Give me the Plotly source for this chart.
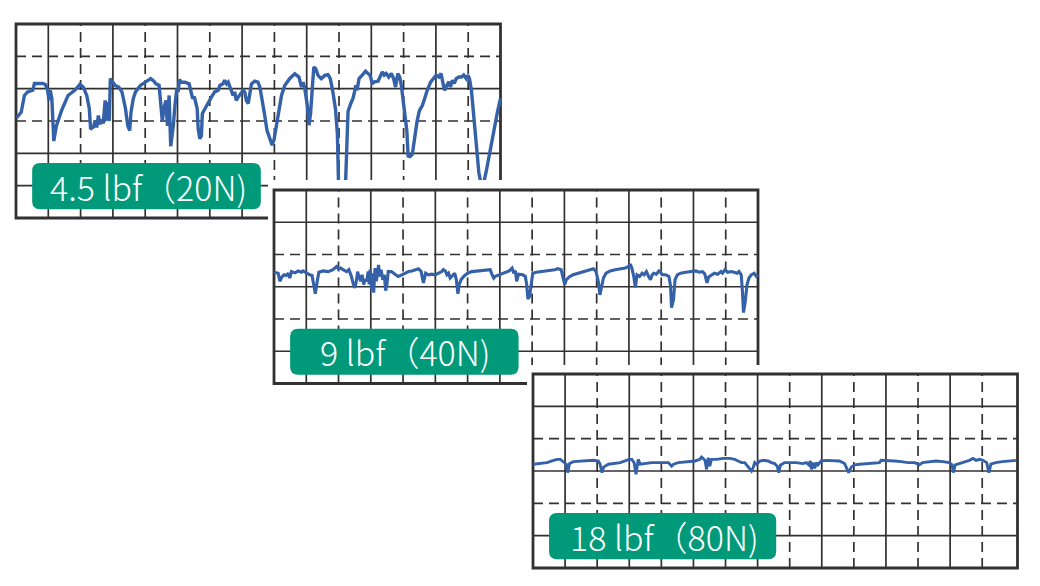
import plotly.graph_objects as go

# Friction-force traces, in grid divisions (15 across, 6 high, 0 at the bottom)
pos_20n = [0.02, 0.16, 0.26, 0.36, 0.52, 0.57, 0.83, 0.91, 0.98, 1.02, 1.06, 1.11, 1.17, 1.25, 1.41, 1.51,
           1.61, 1.82, 1.98, 2.08, 2.19, 2.27, 2.31, 2.40, 2.45, 2.50, 2.55, 2.60, 2.66, 2.70, 2.76, 2.79,
           2.84, 2.89, 2.92, 3.00, 3.07, 3.18, 3.28, 3.39, 3.46, 3.52, 3.56, 3.63, 3.70, 3.85, 4.01, 4.17,
           4.27, 4.32, 4.43, 4.48, 4.53, 4.58, 4.64, 4.69, 4.74, 4.79, 4.87, 4.92, 4.98, 5.02, 5.06, 5.12,
           5.23, 5.36, 5.43, 5.47, 5.52, 5.61, 5.64, 5.69, 5.74, 5.77, 5.85, 5.95, 6.05, 6.15, 6.26, 6.31,
           6.41, 6.46, 6.52, 6.57, 6.62, 6.67, 6.72, 6.77, 6.82, 6.88, 6.98, 7.03, 7.08, 7.13, 7.19, 7.24,
           7.29, 7.39, 7.49, 7.55, 7.63, 7.70, 7.77, 7.86, 7.93, 7.99, 8.06, 8.13, 8.22, 8.32, 8.47, 8.63,
           8.68, 8.76, 8.84, 8.89, 8.94, 9.02, 9.07, 9.12, 9.18, 9.22, 9.28, 9.35, 9.45, 9.56, 9.66, 9.73,
           9.81, 9.89, 9.95, 9.98, 10.00, 10.18, 10.21, 10.24, 10.28, 10.38, 10.43, 10.48, 10.52, 10.56,
           10.62, 10.72, 10.82, 10.90, 10.96, 11.03, 11.10, 11.21, 11.28, 11.34, 11.40, 11.46, 11.54, 11.62,
           11.69, 11.75, 11.82, 11.88, 11.93, 11.98, 12.05, 12.10, 12.14, 12.20, 12.27, 12.34, 12.42, 12.49,
           12.58, 12.65, 12.73, 12.84, 12.94, 13.01, 13.09, 13.16, 13.22, 13.27, 13.34, 13.40, 13.45, 13.51,
           13.57, 13.63, 13.71, 13.79, 13.86, 13.94, 13.99, 14.04, 14.10, 14.17, 14.25, 14.33, 14.40, 14.47,
           14.55, 14.66, 14.79, 14.90, 15.00]
amp_20n = [3.10, 3.27, 3.79, 3.90, 3.95, 4.16, 4.16, 4.13, 3.95, 3.64, 3.95, 3.70, 2.38, 2.85, 3.32, 3.58,
           3.79, 3.95, 4.13, 4.05, 3.79, 3.38, 2.75, 2.82, 3.02, 2.80, 3.17, 2.90, 3.05, 2.92, 3.64, 3.01,
           3.58, 3.00, 4.31, 4.20, 4.10, 4.05, 3.90, 3.38, 2.85, 2.70, 3.27, 3.69, 3.90, 4.10, 4.20, 4.31,
           4.23, 4.16, 4.10, 3.58, 3.00, 3.38, 3.64, 2.85, 3.79, 2.22, 2.85, 3.48, 4.00, 3.90, 4.28, 4.20,
           4.20, 4.15, 3.90, 3.69, 3.75, 3.38, 2.76, 2.45, 2.55, 3.23, 3.38, 3.59, 3.74, 3.90, 3.95, 4.10,
           4.15, 4.26, 4.15, 4.20, 4.05, 3.90, 3.79, 3.90, 3.64, 3.74, 3.90, 3.95, 3.90, 3.64, 3.54, 3.79,
           4.15, 4.23, 4.20, 4.05, 3.64, 3.18, 2.71, 2.40, 2.25, 2.43, 2.87, 3.38, 3.79, 4.10, 4.31, 4.46,
           4.41, 4.36, 4.05, 4.20, 4.00, 3.48, 2.87, 3.23, 4.10, 4.67, 4.62, 4.41, 4.31, 4.41, 4.43, 4.31,
           3.90, 3.38, 2.60, 1.50, 0.40, 0.40, 1.30, 2.40, 3.30, 3.58, 3.69, 3.90, 4.10, 3.95,
           4.31, 4.42, 4.54, 4.47, 4.42, 4.16, 4.21, 4.23, 4.42, 4.52, 4.42, 4.47, 4.36, 4.47,
           4.31, 4.05, 4.47, 4.36, 4.10, 3.69, 3.11, 2.70, 1.92, 1.90, 1.97, 2.54, 3.01, 3.32,
           3.48, 3.69, 3.95, 4.21, 4.36, 4.42, 4.36, 4.47, 4.16, 3.95, 4.10, 4.21, 4.05, 4.26,
           4.16, 4.31, 4.36, 4.36, 4.42, 4.31, 4.42, 4.31, 3.95, 3.20, 2.20, 1.40, 1.05, 1.05,
           1.40, 2.00, 2.60, 3.25, 3.70]

pos_40n = [0.00, 0.13, 0.18, 0.24, 0.31, 0.38, 0.44, 0.49, 0.54, 0.65, 0.75, 0.85, 0.90, 1.01, 1.11, 1.18,
           1.24, 1.28, 1.34, 1.39, 1.52, 1.68, 1.83, 1.94, 2.00, 2.07, 2.14, 2.25, 2.32, 2.40, 2.46, 2.51,
           2.56, 2.59, 2.63, 2.69, 2.73, 2.78, 2.82, 2.87, 2.92, 2.95, 2.98, 3.03, 3.06, 3.09, 3.13, 3.17,
           3.21, 3.24, 3.28, 3.32, 3.37, 3.42, 3.46, 3.50, 3.54, 3.64, 3.75, 3.85, 3.96, 4.06, 4.17, 4.27,
           4.37, 4.48, 4.56, 4.63, 4.70, 4.79, 4.89, 5.00, 5.10, 5.20, 5.25, 5.31, 5.36, 5.41, 5.46, 5.51,
           5.60, 5.65, 5.70, 5.74, 5.80, 5.88, 6.00, 6.13, 6.34, 6.55, 6.70, 6.76, 6.81, 6.86, 6.97, 7.07,
           7.17, 7.29, 7.38, 7.43, 7.48, 7.52, 7.58, 7.71, 7.79, 7.83, 7.87, 7.92, 7.97, 8.02, 8.13, 8.33,
           8.54, 8.70, 8.80, 8.90, 8.96, 9.01, 9.06, 9.17, 9.27, 9.43, 9.58, 9.74, 9.90, 9.98, 10.05, 10.10,
           10.16, 10.21, 10.29, 10.42, 10.57, 10.73, 10.89, 10.99, 11.04, 11.09, 11.15, 11.20, 11.25, 11.33,
           11.41, 11.47, 11.54, 11.61, 11.67, 11.72, 11.77, 11.85, 11.93, 11.98, 12.03, 12.14, 12.24, 12.29,
           12.32, 12.38, 12.43, 12.50, 12.60, 12.76, 12.92, 13.07, 13.18, 13.28, 13.35, 13.42, 13.47, 13.54,
           13.65, 13.75, 13.85, 13.90, 13.98, 14.06, 14.17, 14.26, 14.35, 14.41, 14.48, 14.52, 14.55, 14.60,
           14.66, 14.72, 14.79, 14.88, 14.95, 15.00]
amp_40n = [3.45, 3.42, 3.17, 3.30, 3.37, 3.35, 3.42, 3.27, 3.47, 3.43, 3.49, 3.45, 3.49, 3.42, 3.37, 3.35,
           3.07, 2.78, 3.17, 3.45, 3.49, 3.47, 3.53, 3.63, 3.55, 3.58, 3.53, 3.47, 3.53, 3.32, 3.07, 2.97,
           3.22, 3.47, 3.32, 3.17, 3.37, 3.07, 3.22, 3.17, 3.47, 3.07, 3.53, 2.92, 3.42, 2.82, 3.58, 3.17,
           3.42, 3.68, 3.32, 3.53, 3.22, 3.37, 2.88, 3.07, 3.47, 3.47, 3.39, 3.32, 3.37, 3.42, 3.47, 3.49,
           3.53, 3.56, 3.47, 3.12, 3.42, 3.37, 3.39, 3.37, 3.42, 3.47, 3.53, 3.49, 3.37, 3.42, 3.27, 3.32,
           3.42, 3.22, 2.78, 3.07, 3.22, 3.32, 3.42, 3.47, 3.49, 3.53, 3.53, 3.37, 3.27, 3.32, 3.37, 3.39,
           3.45, 3.49, 3.58, 3.42, 3.50, 3.17, 3.39, 3.37, 3.32, 3.07, 2.62, 2.70, 3.07, 3.42, 3.45, 3.47,
           3.49, 3.53, 3.56, 3.53, 3.27, 3.07, 3.22, 3.32, 3.37, 3.42, 3.47, 3.53, 3.56, 3.47, 3.17, 2.75,
           3.02, 3.27, 3.42, 3.49, 3.53, 3.56, 3.58, 3.63, 3.70, 3.58, 3.32, 2.98, 3.37, 3.32,
           3.42, 3.37, 3.47, 3.32, 3.22, 3.37, 3.42, 3.39, 3.49, 3.45, 3.37, 3.37, 3.32, 3.02,
           2.35, 2.60, 3.22, 3.37, 3.42, 3.45, 3.47, 3.49, 3.45, 3.47, 3.40, 3.12, 3.30, 3.35,
           3.42, 3.39, 3.47, 3.42, 3.53, 3.45, 3.47, 3.45, 3.42, 3.47, 3.37, 2.82, 2.20, 2.50,
           3.07, 3.27, 3.37, 3.42, 3.32, 3.37]

pos_80n = [0.00, 0.23, 0.44, 0.59, 0.75, 0.85, 0.95, 1.04, 1.08, 1.14, 1.26, 1.47, 1.68, 1.89, 2.04, 2.09,
           2.15, 2.20, 2.35, 2.51, 2.72, 2.87, 2.98, 3.08, 3.15, 3.21, 3.25, 3.28, 3.34, 3.49, 3.70, 4.06,
           4.22, 4.32, 4.38, 4.53, 4.79, 5.05, 5.20, 5.25, 5.30, 5.36, 5.41, 5.46, 5.51, 5.56, 5.72, 5.93,
           6.13, 6.29, 6.39, 6.50, 6.60, 6.70, 6.76, 6.81, 6.86, 6.91, 6.97, 7.07, 7.17, 7.33, 7.43, 7.53,
           7.61, 7.66, 7.71, 7.84, 8.00, 8.21, 8.41, 8.52, 8.60, 8.64, 8.68, 8.73, 8.78, 8.83, 8.88, 8.98,
           9.14, 9.35, 9.55, 9.71, 9.78, 9.84, 9.92, 10.02, 10.18, 10.38, 10.69, 10.80, 10.85, 10.95, 11.06,
           11.27, 11.47, 11.69, 11.90, 12.04, 12.14, 12.35, 12.56, 12.77, 12.97, 13.06, 13.10, 13.16, 13.28,
           13.44, 13.60, 13.71, 13.81, 13.92, 14.02, 14.14, 14.21, 14.27, 14.42, 14.63, 14.84, 15.05]
amp_80n = [3.21, 3.24, 3.26, 3.31, 3.36, 3.36, 3.29, 3.21, 2.95, 3.23, 3.29, 3.31, 3.31, 3.33, 3.31, 3.21,
           2.95, 3.12, 3.21, 3.23, 3.26, 3.31, 3.36, 3.36, 3.26, 2.90, 3.26, 3.36, 3.21, 3.23, 3.26, 3.26,
           3.26, 3.15, 3.21, 3.26, 3.29, 3.31, 3.36, 3.43, 3.39, 3.33, 3.05, 3.41, 3.15, 3.36, 3.36, 3.39,
           3.39, 3.36, 3.31, 3.26, 3.26, 3.15, 3.05, 3.00, 3.10, 3.26, 3.21, 3.31, 3.33, 3.31, 3.26, 3.23,
           3.15, 2.95, 3.18, 3.26, 3.26, 3.26, 3.23, 3.26, 3.19, 3.31, 3.05, 3.26, 3.08, 3.26, 3.19, 3.31,
           3.33, 3.33, 3.31, 3.23, 3.10, 2.95, 3.12, 3.19, 3.21, 3.23, 3.26, 3.26, 3.33, 3.33, 3.31,
           3.31, 3.29, 3.26, 3.26, 3.19, 3.26, 3.29, 3.31, 3.29, 3.26, 3.19, 2.95, 3.19, 3.23,
           3.26, 3.33, 3.39, 3.33, 3.36, 3.33, 3.26, 2.95, 3.21, 3.26, 3.29, 3.31, 3.33]

load_labels = ["4.5 lbf（20N)", "9 lbf（40N)", "18 lbf（80N)"]

W, H = 1040, 586
BLUE = "#3461a8"
INK = "#333030"
GREEN = "#009a7a"

# Frame placement in pixels (left, top, right, bottom borders), white margin
# that masks the panel behind, width in divisions, trace width, and which
# horizontal division lines are solid vs dashed.
frames = [
    dict(L=16, T=24, R=500.5, B=218, pl=4, pt=4, span=15.0, lw=3.4,
         solid_y=[1, 2, 4], dash_y=[3, 5]),
    dict(L=274, T=190, R=758, B=383.5, pl=6, pt=10, span=15.0, lw=3.1,
         solid_y=[1, 3, 5], dash_y=[2, 4]),
    dict(L=533, T=374, R=1017.5, B=568, pl=6, pt=9, span=15.1, lw=2.9,
         solid_y=[1, 3, 5], dash_y=[2, 4]),
]
series = [(pos_20n, amp_20n), (pos_40n, amp_40n), (pos_80n, amp_80n)]
PAD = 4
DASH = "10px,6px"
GRID_W = 1.7


def rounded_box(x0, y0, x1, y1, r):
    return (f"M{x0 + r},{y0} L{x1 - r},{y0} Q{x1},{y0} {x1},{y0 + r} "
            f"L{x1},{y1 - r} Q{x1},{y1} {x1 - r},{y1} L{x0 + r},{y1} "
            f"Q{x0},{y1} {x0},{y1 - r} L{x0},{y0 + r} Q{x0},{y0} {x0 + r},{y0} Z")


fig = go.Figure()
shapes, annotations = [], []
layout = dict(width=W, height=H, margin=dict(l=0, r=0, t=0, b=0),
              paper_bgcolor="white", plot_bgcolor="white", showlegend=False)

for i, (f, (xs, ys), label) in enumerate(zip(frames, series, load_labels), start=1):
    sfx = "" if i == 1 else str(i)
    xref, yref = "x" + sfx, "y" + sfx
    ux = (f["R"] - f["L"]) / f["span"]
    uy = (f["B"] - f["T"]) / 6.0
    xr = [-f["pl"] / ux, f["span"] + PAD / ux]
    yr = [-PAD / uy, 6 + f["pt"] / uy]

    hidden = dict(fixedrange=True, showticklabels=False, ticks="", zeroline=False,
                  showline=False, showgrid=False)
    layout["xaxis" + sfx] = dict(domain=[(f["L"] - f["pl"]) / W, (f["R"] + PAD) / W],
                                 range=xr, anchor=yref, **hidden)
    layout["yaxis" + sfx] = dict(domain=[1 - (f["B"] + PAD) / H, 1 - (f["T"] - f["pt"]) / H],
                                 range=yr, anchor=xref, **hidden)

    # white card behind this panel, masking the panel behind it
    shapes.append(dict(type="rect", xref=xref, yref=yref, layer="below",
                       x0=xr[0], x1=xr[1], y0=yr[0], y1=yr[1],
                       fillcolor="white", line=dict(width=0)))
    # division lines: odd columns solid, even columns dashed
    for k in range(1, 15):
        shapes.append(dict(type="line", xref=xref, yref=yref, layer="between",
                           x0=k, x1=k, y0=0, y1=6,
                           line=dict(color=INK, width=GRID_W,
                                     dash="solid" if k % 2 else DASH)))
    for k in f["dash_y"] + f["solid_y"]:
        shapes.append(dict(type="line", xref=xref, yref=yref, layer="between",
                           x0=0, x1=f["span"], y0=k, y1=k,
                           line=dict(color=INK, width=GRID_W,
                                     dash="solid" if k in f["solid_y"] else DASH)))
    # outer frame
    shapes.append(dict(type="rect", xref=xref, yref=yref, layer="between",
                       x0=0, x1=f["span"], y0=0, y1=6,
                       line=dict(color=INK, width=2.8)))
    # load tag
    shapes.append(dict(type="path", xref=xref, yref=yref, layer="above",
                       path=rounded_box(0.5, 0.27, 7.58, 1.70, 0.25),
                       fillcolor=GREEN, line=dict(width=0)))
    annotations.append(dict(xref=xref, yref=yref, x=(0.5 + 7.58) / 2 + 0.05, y=0.985,
                            text=label, showarrow=False,
                            xanchor="center", yanchor="middle",
                            font=dict(family="Noto Sans CJK JP", size=34, weight=300,
                                      color="white")))

    fig.add_trace(go.Scatter(x=xs, y=ys, xaxis=xref, yaxis=yref, mode="lines",
                             line=dict(color=BLUE, width=f["lw"]), hoverinfo="skip"))

layout["shapes"] = shapes
layout["annotations"] = annotations
fig.update_layout(**layout)
fig.write_html("out.html", config={"displayModeBar": False})
